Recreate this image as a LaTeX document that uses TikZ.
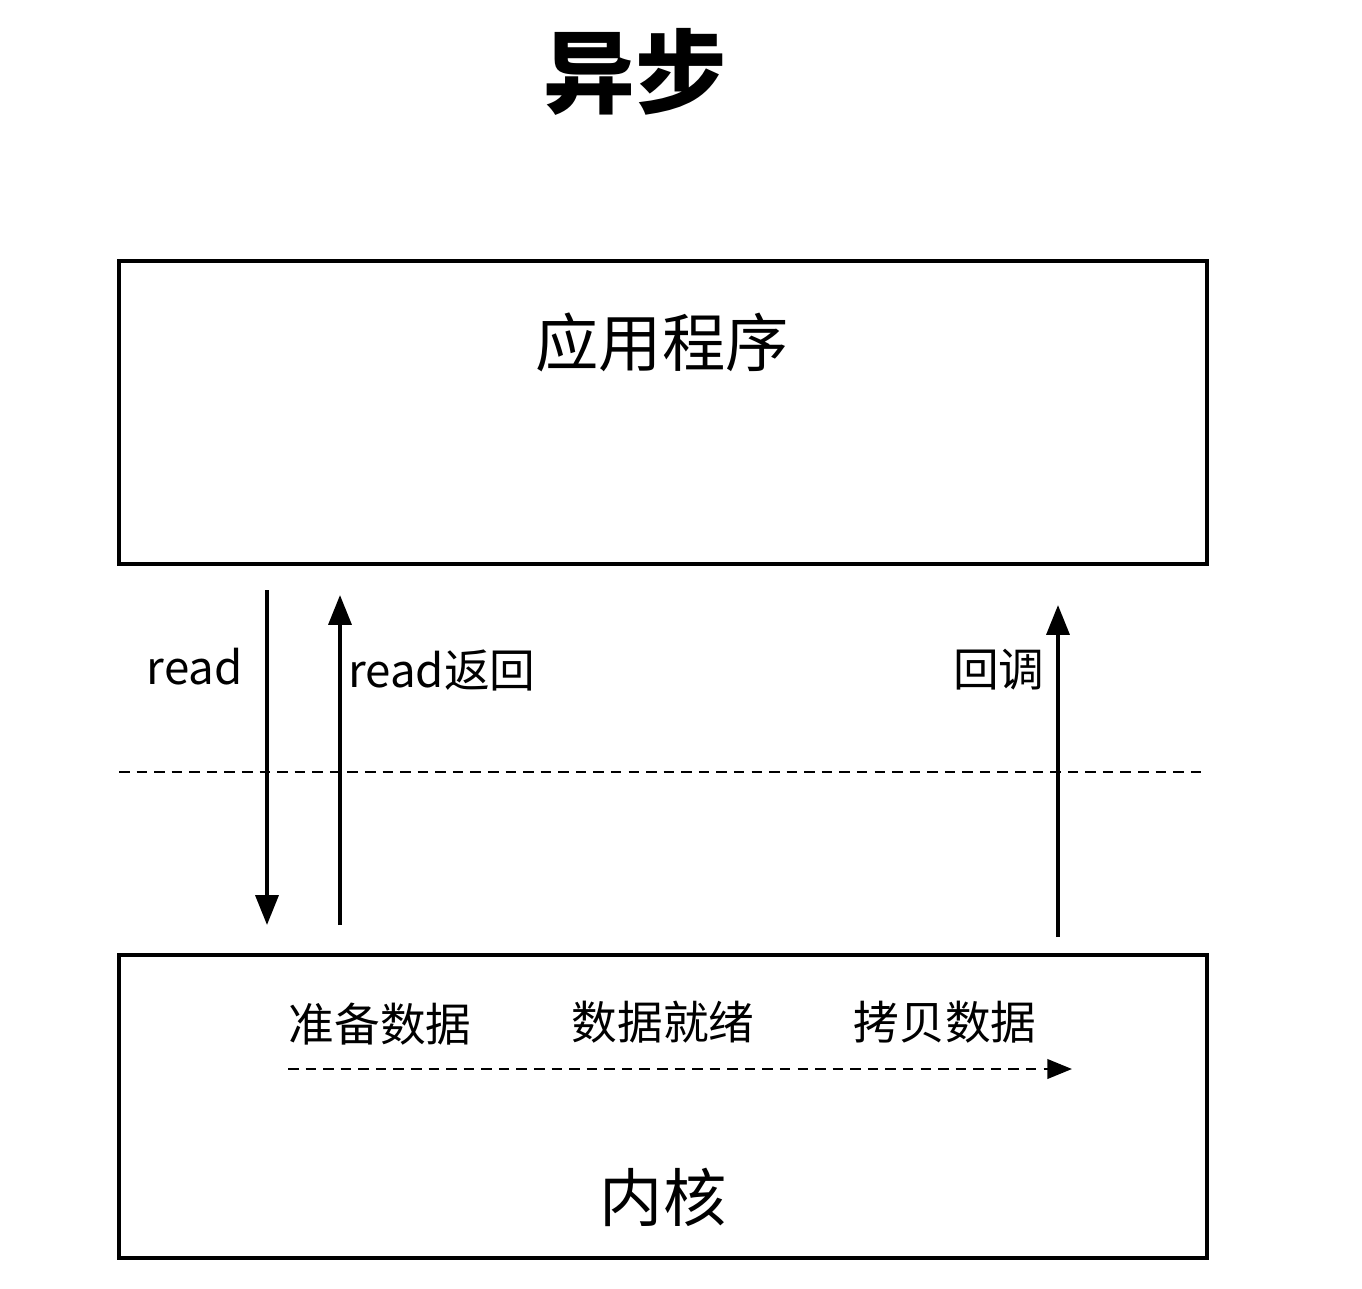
\documentclass[tikz,border=0pt]{standalone}
\usepackage{fontspec}
\setmainfont{Noto Sans CJK SC}
\usetikzlibrary{arrows.meta}
\begin{document}
\begin{tikzpicture}[x=0.02cm,y=-0.02cm,
  box/.style={draw,line width=2.5pt},
  arr/.style={line width=2.2pt,-{Triangle[length=17pt,width=13pt]}},
  lbl/.style={font=\fontsize{26}{30}\selectfont,inner sep=0pt},
  big/.style={font=\fontsize{36}{40}\selectfont,inner sep=0pt}]
\useasboundingbox (0,0) rectangle (1362,1288);
\node[font=\fontsize{52}{56}\selectfont\bfseries,inner sep=0pt] (title) at (635,72) {异步};
\draw[box] (119,261) rectangle (1207,564);
\node[big] (app) at (662,342) {应用程序};
\draw[box] (119,955) rectangle (1207,1258);
\node[big] (kern) at (663,1197) {内核};
\draw[line width=1.6pt,dash pattern=on 6pt off 4pt] (119,772) coordinate (dl) -- (1207,772) coordinate (dr);
\coordinate (r1) at (267,590); \coordinate (r2) at (267,925);
\coordinate (b1) at (340,925); \coordinate (b2) at (340,595);
\coordinate (c1) at (1058,937); \coordinate (c2) at (1058,605);
\draw[arr] (r1) -- (r2);
\draw[arr] (b1) -- (b2);
\draw[arr] (c1) -- (c2);
\node[lbl,anchor=east] (lr) at (243,667) {read};
\node[lbl,anchor=west] (lrb) at (348,670) {read返回};
\node[lbl,anchor=east] (lcb) at (1045,670) {回调};
\node[lbl] (k1) at (380,1024) {准备数据};
\node[lbl] (k2) at (663,1022) {数据就绪};
\node[lbl] (k3) at (945,1022) {拷贝数据};
\coordinate (d1) at (288,1069); \coordinate (d2) at (1072,1069);
\draw[line width=1.6pt,dash pattern=on 6pt off 4pt,-{Triangle[length=14pt,width=11pt]}] (d1) -- (d2);
\end{tikzpicture}
\end{document}
